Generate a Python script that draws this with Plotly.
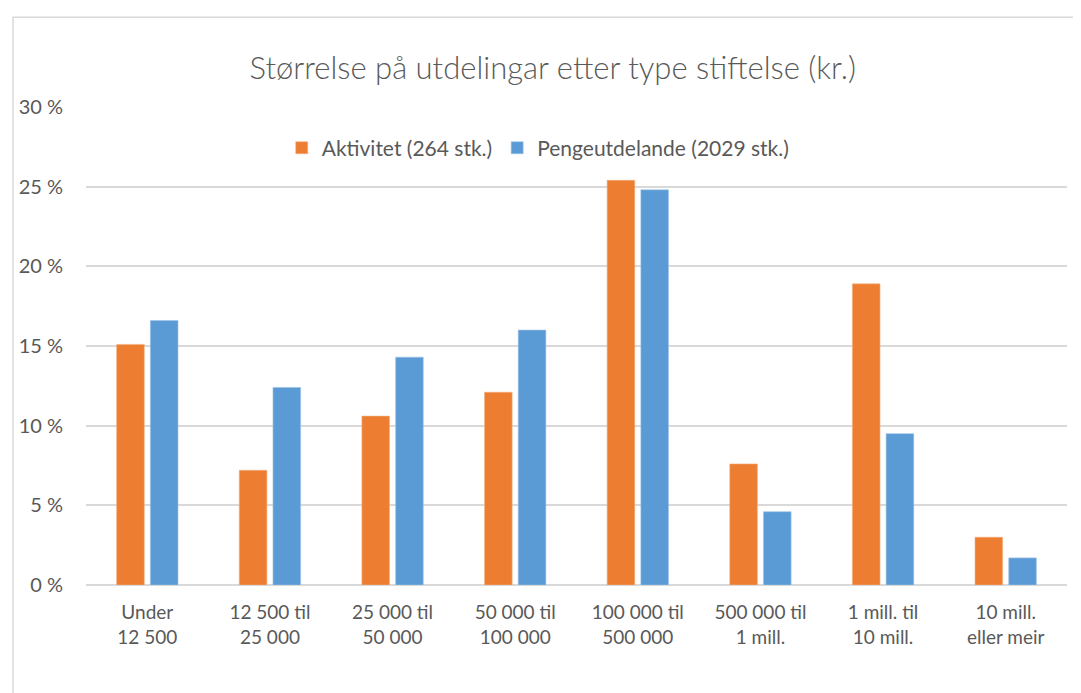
import plotly.graph_objects as go

categories = ["Under<br>12 500", "12 500 til<br>25 000", "25 000 til<br>50 000",
              "50 000 til<br>100 000", "100 000 til<br>500 000", "500 000 til<br>1 mill.",
              "1 mill. til<br>10 mill.", "10 mill.<br>eller meir"]
aktivitet = [15.1, 7.2, 10.6, 12.1, 25.4, 7.6, 18.9, 3.0]
pengeutdelande = [16.6, 12.4, 14.3, 16.0, 24.8, 4.6, 9.5, 1.7]

font = "Lato, Carlito, Calibri, sans-serif"
grey = "#595959"

fig = go.Figure()
fig.add_trace(go.Bar(x=categories, y=aktivitet, name="Aktivitet (264 stk.)",
                     marker=dict(color="#ED7D31", line=dict(color="#F4B183", width=0.6))))
fig.add_trace(go.Bar(x=categories, y=pengeutdelande, name="Pengeutdelande (2029 stk.)",
                     marker=dict(color="#5B9BD5", line=dict(color="#9DC3E6", width=0.6))))

# the page puts the figure 8px in from the top-left corner
fig.update_layout(
    width=1081, height=693,
    margin=dict(l=78, r=22, t=99, b=116),
    paper_bgcolor="white", plot_bgcolor="white",
    font=dict(family=font, color=grey, size=19),
    barmode="group", bargap=0.45, bargroupgap=0.18,
    title=dict(text="Størrelse på utdelingar etter type stiftelse (kr.)",
               x=0.504, xanchor="center", y=0.913, yanchor="middle",
               font=dict(size=31, color=grey, family=font, weight=300)),
    legend=dict(orientation="h", x=0.461, xanchor="center", y=0.914, yanchor="middle",
                font=dict(size=21, color=grey, weight=400), itemwidth=30, traceorder="normal"),
    showlegend=True,
)
fig.update_yaxes(range=[0, 30], dtick=5, ticksuffix=" %", showgrid=True,
                 gridcolor="#d9d9d9", gridwidth=1.5, zeroline=True, zerolinecolor="#d9d9d9",
                 zerolinewidth=1.5, showline=False, ticks="", ticklabelstandoff=22,
                 tickfont=dict(size=20, color=grey, weight=400))
fig.update_xaxes(showline=False, ticks="", tickfont=dict(size=19, color=grey, weight=400),
                 ticklabelstandoff=14)

# chart border
fig.add_shape(type="rect", xref="paper", yref="paper", x0=-0.0744, x1=1.03, y0=-0.3, y1=1.188,
              line=dict(color="#d9d9d9", width=1.5), fillcolor="rgba(0,0,0,0)", layer="below")

fig.write_html("out.html")
